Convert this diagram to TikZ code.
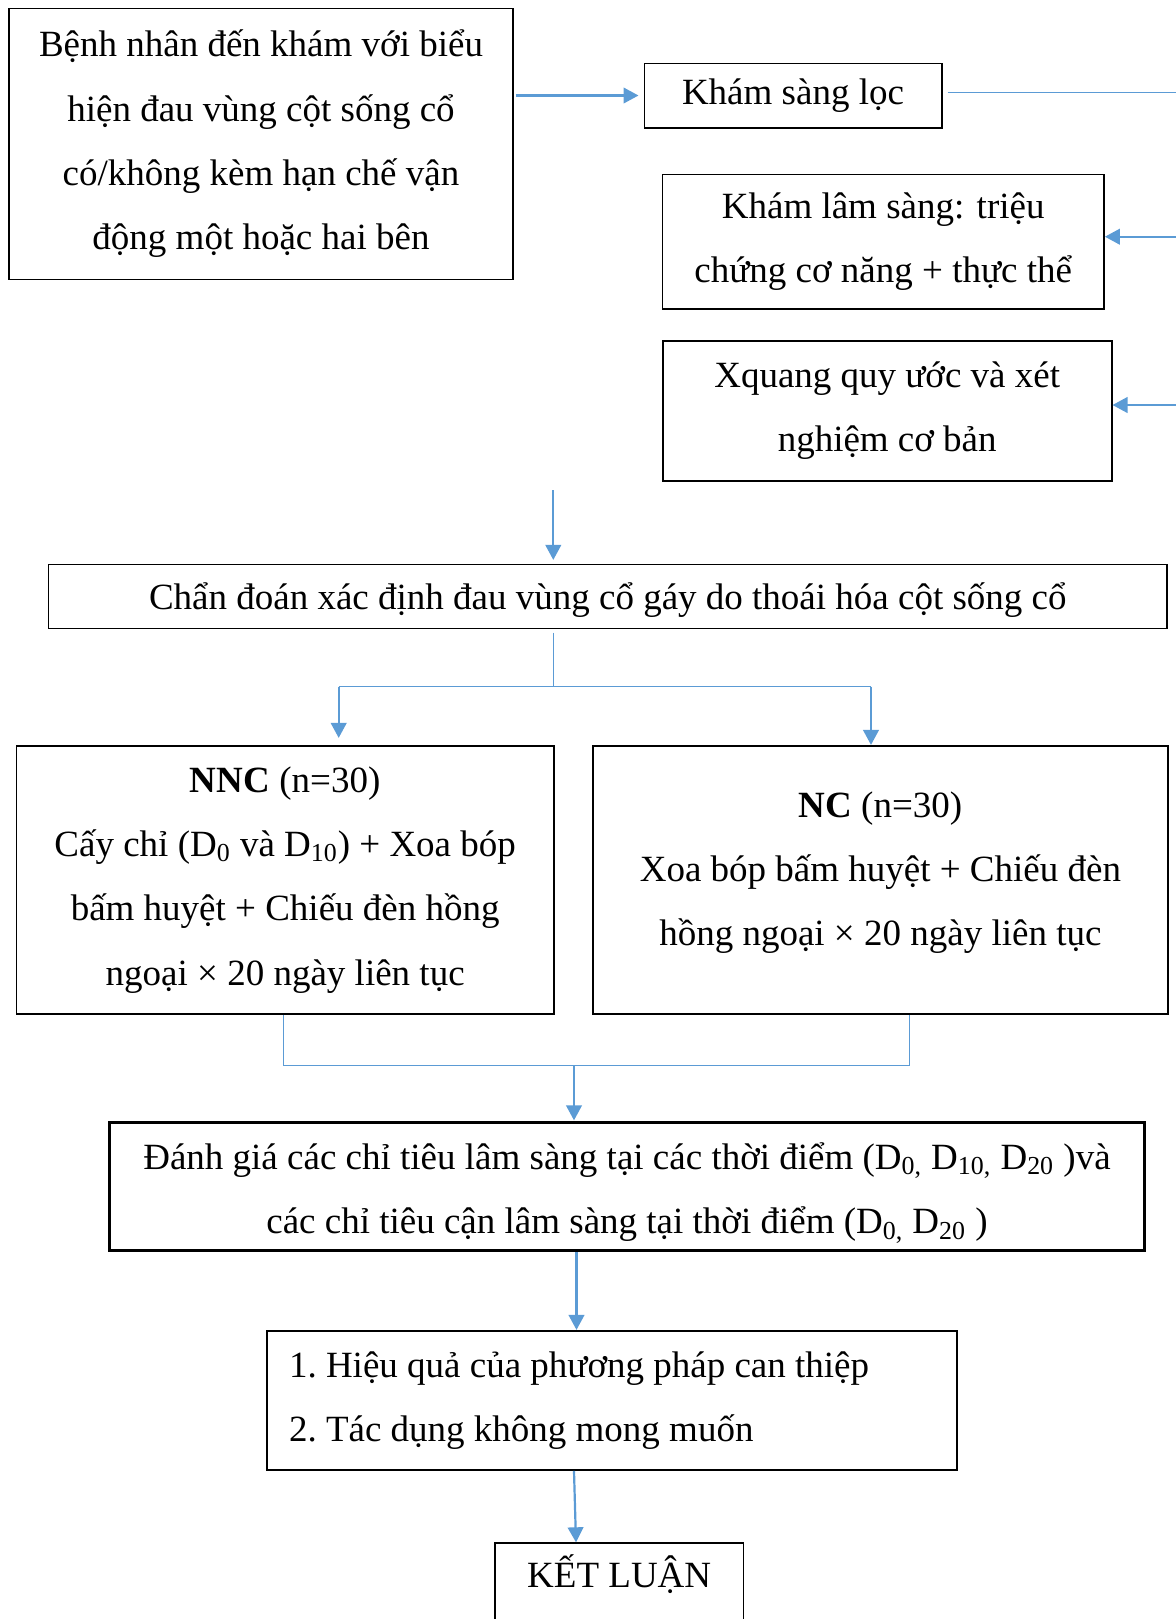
\documentclass[tikz,border=0pt]{standalone}
\usepackage{fontspec}
\setmainfont{Liberation Serif}
\usepackage{tikz}
\usetikzlibrary{arrows.meta,calc}

\definecolor{flowblue}{RGB}{91,155,213}

\tikzset{
  box/.style={draw=black, line width=0.8pt, inner sep=0pt, align=center,
    font=\fontsize{18.5pt}{32.2pt}\selectfont},
  arr/.style={flowblue, line width=1.1pt, -{Triangle[length=7.5pt,width=7.8pt]}},
  link/.style={flowblue, line width=0.7pt}
}

\begin{document}
\begin{tikzpicture}[x=0.5pt,y=-0.5pt]

\useasboundingbox (0,0) rectangle (1176,1619);
\clip (0,0) rectangle (1176,1619);

% top row
\node[box, minimum width=251.9pt, minimum height=135.5pt] (benhnhan) at (261,143.8)
  {Bệnh nhân đến khám với biểu\\ hiện đau vùng cột sống cổ\\ có/không kèm hạn chế vận\\ động một hoặc hai bên};
\node[box, minimum width=148.7pt, minimum height=32.2pt] (sangloc) at (793,95.5) {Khám sàng lọc};
\node[box, minimum width=220.9pt, minimum height=67.2pt] (lamsang) at (883.2,241.5)
  {Khám lâm sàng: triệu\\ chứng cơ năng + thực thể};
\node[box, minimum width=224.5pt, minimum height=70.2pt] (xquang) at (887.2,410.9)
  {Xquang quy ước và xét\\ nghiệm cơ bản};

\coordinate (outA) at (1180,92.7);
\coordinate (inB) at (1180,236.7);
\coordinate (inC) at (1180,405);
\coordinate (inD) at (553.3,490);

\draw[arr] ([xshift=1pt]benhnhan.east |- sangloc.west) -- ([xshift=-2.5pt]sangloc.west);
\draw[link] ([xshift=2.5pt]sangloc.east |- outA) -- (outA);
\draw[arr] (inB) -- (lamsang.east |- inB);
\draw[arr] (inC) -- (xquang.east |- inC);

% diagnosis and groups
\node[box, minimum width=559.3pt, minimum height=32pt] (chandoan) at (607.8,596.3)
  {\rule{0pt}{17.6pt}Chẩn đoán xác định đau vùng cổ gáy do thoái hóa cột sống cổ};
\draw[arr] (inD) -- ([yshift=1.8pt]chandoan.north -| inD);

\node[box, minimum width=268.7pt, minimum height=134.2pt] (nnc) at (285.2,879.9)
  {\textbf{NNC} (n=30)\\ Cấy chỉ (D\textsubscript{0} và D\textsubscript{10}) + Xoa bóp\\ bấm huyệt + Chiếu đèn hồng\\ ngoại × 20 ngày liên tục};
\node[box, minimum width=287.6pt, minimum height=134.2pt] (nc) at (880.4,879.9)
  {\textbf{NC} (n=30)\\ Xoa bóp bấm huyệt + Chiếu đèn\\ hồng ngoại × 20 ngày liên tục\\[-21pt]};

\coordinate (split) at (553.3,686.7);
\coordinate (splitL) at (338.7,686.7);
\coordinate (splitR) at (871,686.7);
\draw[link] ([yshift=-1.7pt]chandoan.south -| split) -- (split);
\draw[link] (splitL) -- (splitR);
\draw[arr] (splitL) -- ([yshift=3.5pt]nnc.north -| splitL);
\draw[arr] (splitR) -- (nc.north -| splitR);

% evaluation
\node[box, line width=1.35pt, minimum width=517.7pt, minimum height=64pt] (danhgia) at (627,1186.7)
  {\rule{0pt}{19.6pt}Đánh giá các chỉ tiêu lâm sàng tại các thời điểm (D\textsubscript{0,} D\textsubscript{10,} D\textsubscript{20} )và\\
   các chỉ tiêu cận lâm sàng tại thời điểm (D\textsubscript{0,} D\textsubscript{20} )};

\coordinate (joinL) at (283.5,1065.7);
\coordinate (joinR) at (909.4,1065.7);
\coordinate (join) at (574,1065.7);
\draw[link] (nnc.south -| joinL) -- (joinL) -- (joinR) -- (nc.south -| joinR);
\draw[arr] (join) -- ([yshift=0.5pt]danhgia.north -| join);

\node[box, align=flush left, text width=323pt, inner xsep=11pt, minimum height=69.7pt] (hieuqua) at (612,1400.4)
  {1.\ Hiệu quả của phương pháp can thiệp\\ 2.\ Tác dụng không mong muốn};
\draw[arr] ($(danhgia.south)+(-50.5,0)$) -- ($(hieuqua.north)+(-35.5,0)$);

\node[box, anchor=north, minimum width=124.2pt, text height=22.35pt, text depth=60pt] (ketluan) at (619.2,1542.3)
  {KẾT LUẬN};
\draw[arr] ($(hieuqua.south)+(-38,0)$) -- ($(ketluan.north)+(-43.2,0)$);

\end{tikzpicture}
\end{document}
